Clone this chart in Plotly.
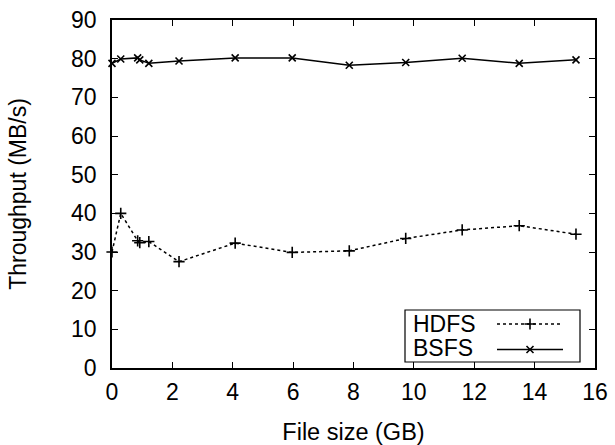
import plotly.graph_objects as go

# Data
file_size_gb = [0.0, 0.29, 0.85, 0.92, 1.22, 2.22, 4.08, 5.97, 7.86, 9.73, 11.6, 13.49, 15.37]
hdfs_mbps = [30.0, 40.0, 32.9, 32.4, 32.7, 27.5, 32.3, 29.9, 30.3, 33.5, 35.7, 36.8, 34.6]
bsfs_mbps = [78.8, 79.9, 80.2, 79.7, 78.8, 79.4, 80.2, 80.2, 78.3, 79.0, 80.1, 78.8, 79.7]
x_ticks = [0, 2, 4, 6, 8, 10, 12, 14, 16]
y_ticks = [0, 10, 20, 30, 40, 50, 60, 70, 80, 90]

FONT = "Liberation Sans, Arial, Helvetica, sans-serif"
FS = 23

fig = go.Figure()
fig.add_trace(go.Scatter(
    x=file_size_gb, y=hdfs_mbps, mode="lines+markers", name="HDFS",
    line=dict(color="black", width=1.5, dash="dot"),
    marker=dict(symbol="cross-thin", size=8, line=dict(color="black", width=1.6)),
    showlegend=False, cliponaxis=False))
fig.add_trace(go.Scatter(
    x=file_size_gb, y=bsfs_mbps, mode="lines+markers", name="BSFS",
    line=dict(color="black", width=1.5),
    marker=dict(symbol="x-thin", size=7, line=dict(color="black", width=1.6)),
    showlegend=False, cliponaxis=False))

# Legend drawn gnuplot-style on a pixel overlay axis
L, R, T, B = 112, 595, 20, 368
fig.add_trace(go.Scatter(x=[497, 563], y=[324, 324], xaxis="x2", yaxis="y2", mode="lines",
                         line=dict(color="black", width=1.5, dash="dot"), showlegend=False, hoverinfo="skip"))
fig.add_trace(go.Scatter(x=[530], y=[324], xaxis="x2", yaxis="y2", mode="markers",
                         marker=dict(symbol="cross-thin", size=8, line=dict(color="black", width=1.6)),
                         showlegend=False, hoverinfo="skip"))
fig.add_trace(go.Scatter(x=[497, 563], y=[349.5, 349.5], xaxis="x2", yaxis="y2", mode="lines",
                         line=dict(color="black", width=1.5), showlegend=False, hoverinfo="skip"))
fig.add_trace(go.Scatter(x=[530], y=[349.5], xaxis="x2", yaxis="y2", mode="markers",
                         marker=dict(symbol="x-thin", size=7, line=dict(color="black", width=1.6)),
                         showlegend=False, hoverinfo="skip"))

fig.add_shape(type="rect", xref="x2", yref="y2", x0=405, x1=580, y0=310, y1=362,
              line=dict(color="black", width=1.2), fillcolor="rgba(0,0,0,0)", layer="above")
fig.add_annotation(xref="x2", yref="y2", x=412, y=323.5, text="HDFS", showarrow=False,
                   xanchor="left", yanchor="middle", height=22, borderpad=0,
                   font=dict(family=FONT, size=FS, color="black"))
fig.add_annotation(xref="x2", yref="y2", x=412, y=348, text="BSFS", showarrow=False,
                   xanchor="left", yanchor="middle", height=22, borderpad=0,
                   font=dict(family=FONT, size=FS, color="black"))

fig.update_layout(
    template="none",
    width=615, height=445,
    margin=dict(l=L, r=615 - R, t=T, b=445 - B, pad=0, autoexpand=False),
    paper_bgcolor="white", plot_bgcolor="white",
    font=dict(family=FONT, size=FS, color="black"),
    xaxis=dict(range=[0, 16], tickvals=x_ticks, ticktext=[str(v) for v in x_ticks],
               ticks="inside", ticklen=6, tickwidth=1, tickcolor="black",
               showline=True, linecolor="black", linewidth=1.5, mirror="ticks",
               showgrid=False, zeroline=False, ticklabelstandoff=3, automargin=False,
               title=dict(text="File size (GB)", standoff=25, font=dict(size=23.5))),
    yaxis=dict(range=[0, 90], tickvals=y_ticks, ticktext=[str(v) for v in y_ticks],
               ticks="inside", ticklen=6, tickwidth=1, tickcolor="black",
               showline=True, linecolor="black", linewidth=1.5, mirror="ticks",
               showgrid=False, zeroline=False, ticklabelstandoff=9, automargin=False,
               title=dict(text="Throughput (MB/s)", standoff=38, font=dict(size=23))),
    xaxis2=dict(range=[L, R], overlaying="x", visible=False, fixedrange=True, automargin=False),
    yaxis2=dict(range=[B, T], overlaying="y", visible=False, fixedrange=True, automargin=False),
)

fig.write_html("out.html", config={"displayModeBar": False},
               post_script="document.body.style.margin='0';document.body.style.overflow='hidden';")
